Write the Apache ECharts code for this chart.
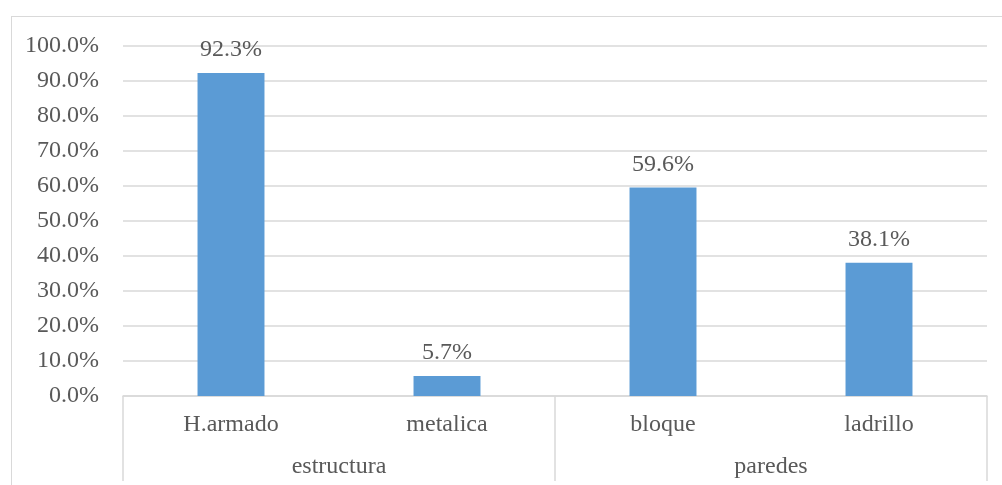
<!DOCTYPE html>
<html>
<head>
    <meta charset="UTF-8">
    <title>estructura / paredes</title>
    <script src="https://cdn.jsdelivr.net/npm/echarts@6/dist/echarts.min.js"></script>
    <style>
        body { margin: 0; background: #fff; }
        #wrap { position: relative; width: 1002px; height: 485px; overflow: hidden; }
        #frame { position: absolute; left: 11px; top: 16px; width: 1100px; height: 600px;
                 border-left: 1.5px solid #d9d9d9; border-top: 1.5px solid #d9d9d9; }
        #chart { position: absolute; left: 0; top: 0; width: 1002px; height: 485px; }
    </style>
</head>
<body>
<div id="wrap">
    <div id="frame"></div>
    <div id="chart"></div>
</div>
<script>
    // datos
    var categorias = ['H.armado', 'metalica', 'bloque', 'ladrillo'];
    var grupos = ['estructura', 'paredes'];
    var porcentajes = [92.3, 5.7, 59.6, 38.1];

    var fuente = "'Liberation Serif', 'Times New Roman', serif";
    var gris = '#595959';
    var tam = 24;

    var myChart = echarts.init(document.getElementById('chart'));
    var option = {
        animation: false,
        grid: {left: 123, right: 15, top: 46, height: 350},
        xAxis: [
            {
                type: 'category',
                data: categorias,
                axisLine: {show: true, lineStyle: {color: '#d9d9d9', width: 1.5}},
                axisTick: {show: false},
                axisLabel: {margin: 17, color: gris, fontFamily: fuente, fontSize: tam}
            },
            {
                type: 'category',
                data: grupos,
                position: 'bottom',
                axisLine: {show: false},
                axisTick: {show: true, length: 85, lineStyle: {color: '#d9d9d9', width: 1.5}},
                axisLabel: {margin: 59, color: gris, fontFamily: fuente, fontSize: tam}
            }
        ],
        yAxis: {
            type: 'value',
            min: 0,
            max: 100,
            interval: 10,
            axisLine: {show: false},
            axisTick: {show: false},
            splitLine: {lineStyle: {color: '#d9d9d9', width: 1.5}},
            axisLabel: {
                margin: 24, color: gris, fontFamily: fuente, fontSize: tam,
                formatter: function (v) { return v.toFixed(1) + '%'; }
            }
        },
        series: [{
            type: 'bar',
            xAxisIndex: 0,
            data: porcentajes,
            barWidth: '31%',
            itemStyle: {color: '#5b9bd5'},
            label: {
                show: true, position: 'top', distance: 11,
                color: gris, fontFamily: fuente, fontSize: tam,
                formatter: function (p) { return p.value.toFixed(1) + '%'; }
            }
        }]
    };
    myChart.setOption(option);
</script>
</body>
</html>
